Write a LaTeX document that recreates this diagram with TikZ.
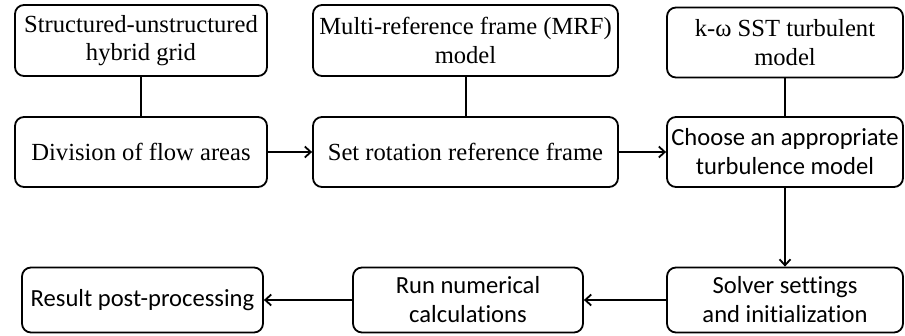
\documentclass[tikz,border=0pt]{standalone}
\usepackage{fontspec}
\setmainfont{Liberation Serif}
\newfontfamily\calib[Ligatures=NoCommon]{Carlito}
\usetikzlibrary{arrows.meta}
\begin{document}
\begin{tikzpicture}[x=1pt,y=-1pt,
  box/.style={draw, line width=1.8pt, rounded corners=9pt, align=center, inner sep=0pt},
  serifbox/.style={box, font=\fontsize{24.6}{28.5}\selectfont},
  sansbox/.style={box, font=\calib\fontsize{24.6}{29}\selectfont},
  link/.style={line width=1.8pt},
  flow/.style={line width=1.8pt, -{Straight Barb[length=6pt,width=11pt,line width=1.8pt]}}]
\useasboundingbox (0,0) rectangle (905,335);
\node[serifbox, minimum width=252pt, minimum height=71pt] (t1) at (141,40.5) {Structured-unstructured\\hybrid grid};
\node[serifbox, minimum width=305pt, minimum height=71pt] (t2) at (465.5,40.5) {Multi-reference frame (MRF)\\model};
\node[serifbox, minimum width=236pt, minimum height=70pt] (t3) at (785,42.5) {k-ω SST turbulent\\model};
\node[serifbox, minimum width=252pt, minimum height=70pt] (a) at (141,152) {Division of flow areas};
\node[serifbox, minimum width=305pt, minimum height=70pt] (b) at (465.5,152) {Set rotation reference frame};
\node[sansbox, minimum width=236pt, minimum height=70pt] (c) at (785,152) {Choose an appropriate\\turbulence model};
\node[sansbox, minimum width=241pt, minimum height=65pt] (r) at (142.5,300) {Result post-processing};
\node[sansbox, minimum width=230pt, minimum height=65pt] (n) at (468,300) {Run numerical\\calculations};
\node[sansbox, minimum width=236pt, minimum height=65pt] (s) at (785,300) {Solver settings\\and initialization};
\draw[link] (t1) -- (a);
\draw[link] (t2.south) ++(0.5,0) coordinate (t2s) -- (t2s |- b.north);
\draw[link] (t3) -- (c);
\draw[flow] (a) -- (b);
\draw[flow] (b) -- (c);
\draw[flow] (c) -- (s);
\draw[flow] (s) -- (n);
\draw[flow] (n) -- (r);
\end{tikzpicture}
\end{document}
